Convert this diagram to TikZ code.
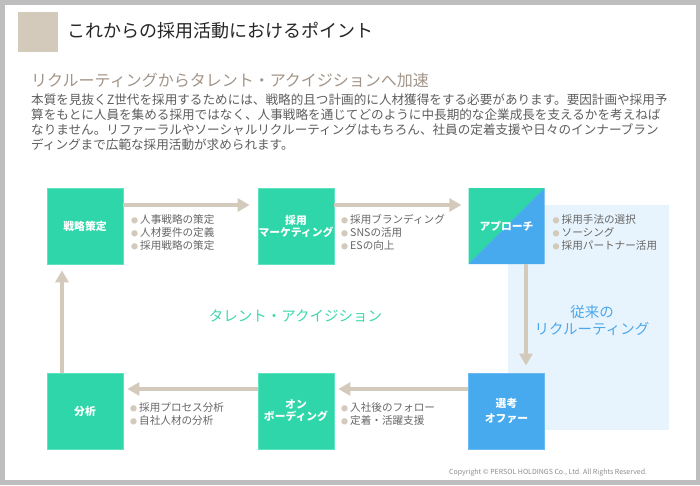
\documentclass[tikz,border=0pt]{standalone}
\usepackage{fontspec}
\setmainfont{Noto Sans CJK JP}
\usetikzlibrary{arrows.meta,calc}
\definecolor{frame}{HTML}{BEBEBE}
\definecolor{tan}{HTML}{D4CABB}
\definecolor{grn}{HTML}{2ED6A9}
\definecolor{grnedge}{HTML}{5FE2BF}
\definecolor{blu}{HTML}{47A9EE}
\definecolor{bluedge}{HTML}{6BBAF2}
\definecolor{panel}{HTML}{E8F4FD}
\definecolor{subt}{HTML}{A39589}
\definecolor{bodyc}{HTML}{5E5E5E}
\definecolor{bulc}{HTML}{666666}
\definecolor{talc}{HTML}{3ED8AE}
\definecolor{recc}{HTML}{4AA8EA}
\newcommand\mybul[1]{{\color{tan}\fontsize{7}{7}\selectfont ●}\hspace{2pt}#1}
\tikzset{
  stage/.style={minimum width=76pt, minimum height=76pt, inner sep=0pt, text=white,
     font=\bfseries\fontsize{10.8}{12}\selectfont, align=center},
  gstage/.style={stage, fill=grn, draw=grnedge, line width=0.8pt},
  bstage/.style={stage, fill=blu, draw=bluedge, line width=0.8pt},
  flow/.style={draw=tan, line width=4pt, -{Triangle[length=12pt,width=13pt]}},
  blist/.style={anchor=west, align=left, text=bulc, inner sep=0pt,
     font=\fontsize{10.6}{13}\selectfont},
}
\begin{document}
\begin{tikzpicture}[x=1pt,y=-1pt]
\useasboundingbox (0,0) rectangle (700,485);
\fill[frame] (0,0) rectangle (700,485);
\fill[white] (5,5) rectangle (696,480);
% title
\fill[tan] (18,12) rectangle (58,52);
\node[anchor=west, inner sep=0pt, text=black!85, font=\fontsize{18}{18}\selectfont] (title) at (67,31) {これからの採用活動におけるポイント};
\node[anchor=west, inner sep=0pt, text=subt, font=\fontsize{16}{16}\selectfont] (sub) at (31,80) {リクルーティングからタレント・アクイジションへ加速};
\node[anchor=north west, inner sep=0pt, align=left, text=bodyc, font=\fontsize{12.6}{15}\selectfont] (body) at (31,93.5)
 {本質を見抜くZ世代を採用するためには、戦略的且つ計画的に人材獲得をする必要があります。要因計画や採用予\\
  算をもとに人員を集める採用ではなく、人事戦略を通じてどのように中長期的な企業成長を支えるかを考えねば\\
  なりません。リファーラルやソーシャルリクルーティングはもちろん、社員の定着支援や日々のインナーブラン\\
  ディングまで広範な採用活動が求められます。};
% panel
\fill[panel] (508,205) rectangle (669,430);
% stages
\node[gstage] (s1) at (85,226) {戦略策定};
\node[gstage] (s2) at (296,226) {採用\\マーケティング};
\node[stage, draw=none, path picture={
   \fill[grn] (path picture bounding box.south west) -- (path picture bounding box.north west) -- (path picture bounding box.north east) -- cycle;
   \fill[blu] (path picture bounding box.south west) -- (path picture bounding box.south east) -- (path picture bounding box.north east) -- cycle;}] (s3) at (506.5,226) {アプローチ};
\node[bstage] (s4) at (506.5,411) {選考\\[3pt]オファー};
\node[gstage] (s5) at (296,411) {オン\\ボーディング};
\node[gstage] (s6) at (85,411) {分析};
% flows
\draw[flow] ($(s1.east)+(0,-21)$) -- ($(s2.west)+(-8,-21)$);
\draw[flow] ($(s2.east)+(0,-21)$) -- ($(s3.west)+(-7,-21)$);
\draw[flow] ($(s3.south)+(19.5,0)$) -- ($(s4.north)+(19.5,-7)$);
\draw[flow] ($(s4.west)+(0,-22)$) -- ($(s5.east)+(4,-22)$);
\draw[flow] ($(s5.west)+(0,-22)$) -- ($(s6.east)+(4,-22)$);
\draw[flow] ($(s6.north)+(-23,0)$) -- ($(s1.south)+(-23,6)$);
% bullet lists
\node[blist] (l1) at (131,232) {\mybul{人事戦略の策定}\\\mybul{人材要件の定義}\\\mybul{採用戦略の策定}};
\node[blist] (l2) at (341,232) {\mybul{採用ブランディング}\\\mybul{SNSの活用}\\\mybul{ESの向上}};
\node[blist] (l3) at (552.5,232) {\mybul{採用手法の選択}\\\mybul{ソーシング}\\\mybul{採用パートナー活用}};
\node[blist] (l5) at (341,414) {\mybul{入社後のフォロー}\\\mybul{定着・活躍支援}};
\node[blist] (l6) at (130,414) {\mybul{採用プロセス分析}\\\mybul{自社人材の分析}};
% centre labels
\node[text=talc, font=\fontsize{14.5}{14.5}\selectfont] (tal) at (295.5,316) {タレント・アクイジション};
\node[text=recc, align=center, font=\fontsize{14.5}{17}\selectfont] (rec) at (592,320) {従来の\\リクルーティング};
\node[anchor=west, inner sep=0pt, text=black!45, font=\fontsize{7}{7}\selectfont] (copy) at (449,473) {Copyright © PERSOL HOLDINGS Co., Ltd. All Rights Reserved.};
\end{tikzpicture}
\end{document}
